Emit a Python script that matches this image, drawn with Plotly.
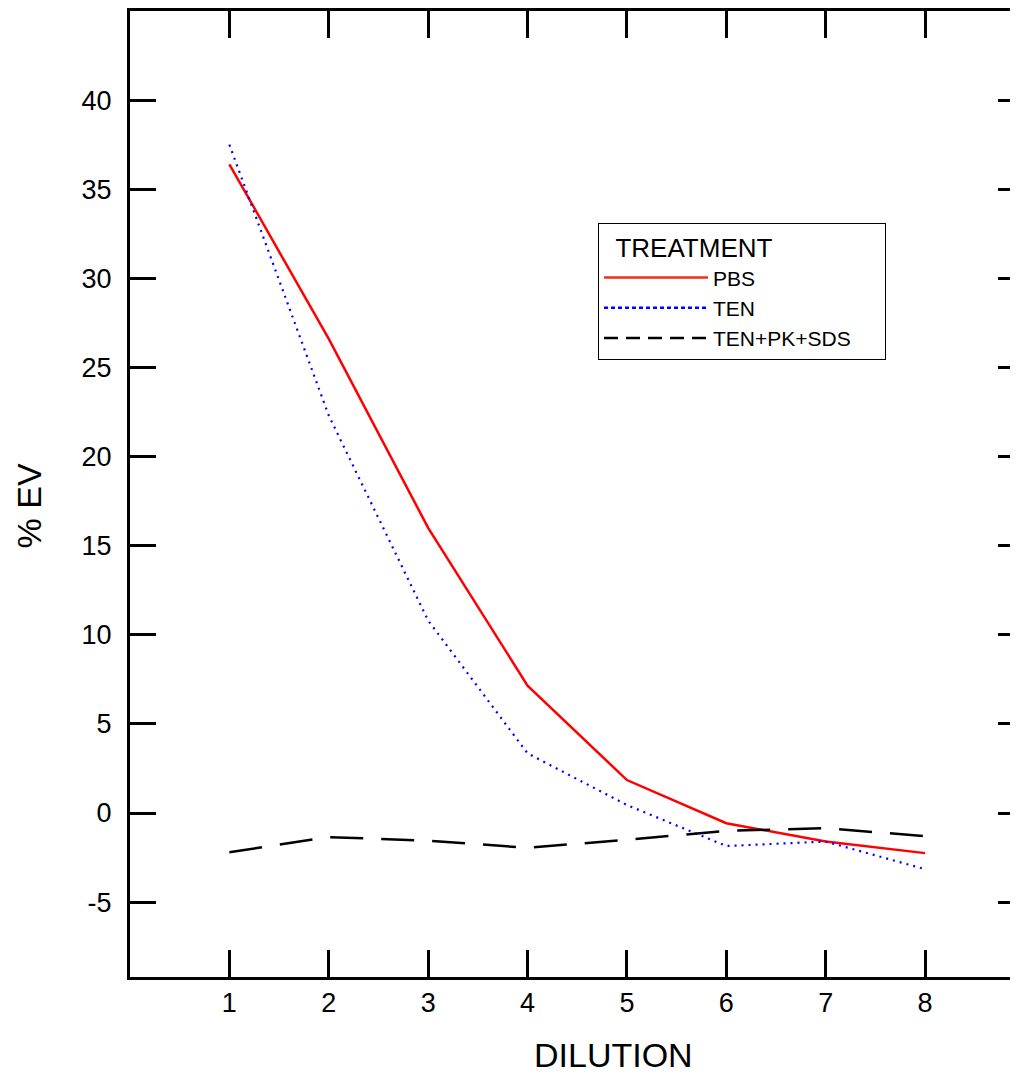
import plotly.graph_objects as go

dilution = [1, 2, 3, 4, 5, 6, 7, 8]
pbs = [36.4, 26.6, 16.0, 7.15, 1.85, -0.57, -1.6, -2.25]
ten = [37.5, 22.3, 10.8, 3.35, 0.45, -1.85, -1.6, -3.15]
ten_pk_sds = [-2.2, -1.35, -1.55, -1.95, -1.5, -1.0, -0.85, -1.3]

y_ticks = [-5, 0, 5, 10, 15, 20, 25, 30, 35, 40]
y_ticktext = [str(v) for v in y_ticks]

FONT = "Liberation Sans, Arial, sans-serif"
NB = "\u00a0"

fig = go.Figure()

# data traces
fig.add_trace(go.Scatter(x=dilution, y=pbs, mode="lines", name="PBS",
                         line=dict(color="#ff0000", width=2.5), showlegend=False))
fig.add_trace(go.Scatter(x=dilution, y=ten, mode="lines", name="TEN",
                         line=dict(color="#0000ff", width=2.2, dash="2px,5px"), showlegend=False))
fig.add_trace(go.Scatter(x=dilution, y=ten_pk_sds, mode="lines", name="TEN+PK+SDS",
                         line=dict(color="#000000", width=2.5, dash="33px,18px"), showlegend=False))

# legend entries
fig.add_trace(go.Scatter(x=[None], y=[None], mode="lines", name="PBS",
                         line=dict(color="#e8331b", width=2.5)))
fig.add_trace(go.Scatter(x=[None], y=[None], mode="lines", name="TEN",
                         line=dict(color="#0000ff", width=2.5, dash="4px,3px")))
fig.add_trace(go.Scatter(x=[None], y=[None], mode="lines", name="TEN+PK+SDS" + NB * 5,
                         line=dict(color="#000000", width=2.5, dash="14px,8px")))

fig.update_layout(
    width=1010, height=1068,
    margin=dict(l=122, r=0, t=1, b=99),
    paper_bgcolor="white", plot_bgcolor="white",
    font=dict(family=FONT, color="#000000"),
    xaxis=dict(
        range=[0, 8.935],
        tickvals=dilution, ticktext=[str(v) for v in dilution],
        ticks="inside", ticklen=27, tickwidth=2.5, tickcolor="black",
        showline=True, linewidth=3, linecolor="black", mirror="ticks",
        showgrid=False, zeroline=False,
        tickfont=dict(size=27, family=FONT),
    ),
    yaxis=dict(
        range=[-9.2, 45],
        tickvals=y_ticks, ticktext=y_ticktext,
        ticks="inside", ticklen=26, tickwidth=2.5, tickcolor="black",
        showline=True, linewidth=3, linecolor="black", mirror=False,
        showgrid=False, zeroline=False,
        ticklabelstandoff=10,
        tickfont=dict(size=27, family=FONT),
    ),
    yaxis2=dict(
        range=[-9.2, 45], overlaying="y", side="right", matches="y",
        tickvals=y_ticks, ticks="inside", ticklen=20, tickwidth=2.5, tickcolor="black",
        showticklabels=False, showline=False, showgrid=False, zeroline=False,
    ),
    legend=dict(
        x=0.527, y=0.781, xanchor="left", yanchor="top",
        bgcolor="white", bordercolor="black", borderwidth=1,
        font=dict(size=21, family=FONT),
        title=dict(text=NB * 2 + "TREATMENT", font=dict(size=26, family=FONT)),
        itemwidth=104,
        tracegroupgap=0,
    ),
    annotations=[
        dict(text="DILUTION", xref="paper", yref="paper", x=0.545, y=-0.0806,
             xanchor="center", yanchor="middle", showarrow=False,
             font=dict(size=34, family=FONT, color="black")),
        dict(text="% EV", xref="paper", yref="paper", x=-0.1143, y=0.4876,
             xanchor="center", yanchor="middle", showarrow=False, textangle=-90,
             font=dict(size=34, family=FONT, color="black")),
    ],
)

# invisible trace to anchor the right-hand axis
fig.add_trace(go.Scatter(x=[None], y=[None], yaxis="y2", showlegend=False, hoverinfo="skip"))

fig.write_html("out.html")
